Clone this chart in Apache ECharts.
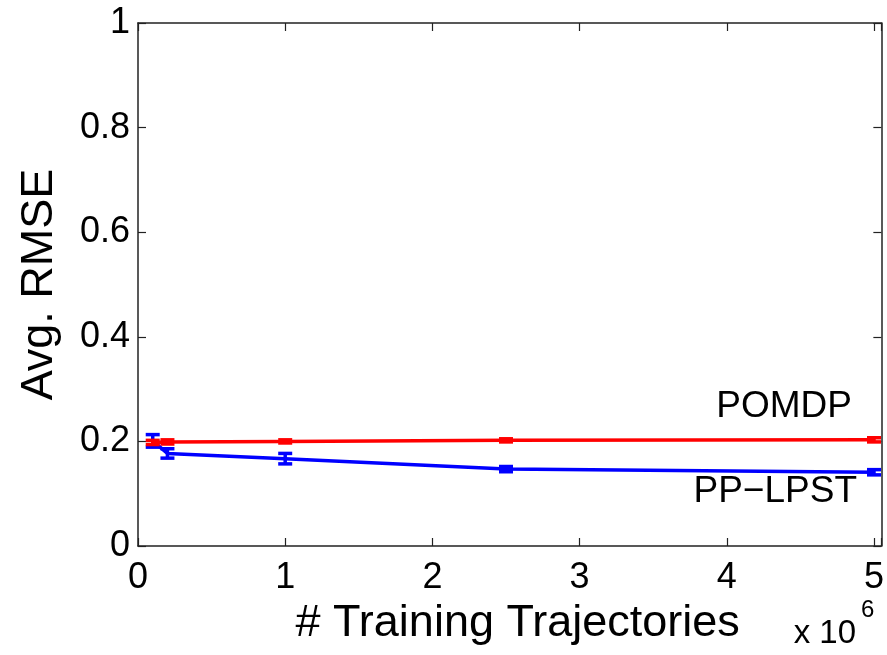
<html>
<head>
<meta charset="utf-8">
<title>Avg. RMSE</title>
<script src="https://cdn.jsdelivr.net/npm/echarts@6/dist/echarts.min.js"></script>
<style>
body { margin: 0; background: #fff; }
#chart { width: 887px; height: 655px; }
</style>
</head>
<body>
<div id="chart"></div>
<script>
// 训练轨迹数
var trajCounts = [100000, 200000, 1000000, 2500000, 5000000];
// POMDP
var pomdpMean = [0.198, 0.199, 0.200, 0.202, 0.203];
var pomdpErr = [0.004, 0.004, 0.003, 0.003, 0.004];
// PP-LPST
var lpstMean = [0.201, 0.177, 0.167, 0.147, 0.141];
var lpstErr = [0.012, 0.009, 0.010, 0.005, 0.005];

var yTicks = [0, 0.2, 0.4, 0.6, 0.8, 1];

var FONT = 'Liberation Sans, Arial, Helvetica, sans-serif';

function pairs(xs, ys) {
	var out = [];
	for (var i = 0; i < xs.length; i++) out.push([xs[i], ys[i]]);
	return out;
}

function errRows(xs, ys, es) {
	var out = [];
	for (var i = 0; i < xs.length; i++) out.push([xs[i], ys[i] - es[i], ys[i] + es[i]]);
	return out;
}

// 误差棒
function errorBar(color) {
	return function (params, api) {
		var lo = api.coord([api.value(0), api.value(1)]);
		var hi = api.coord([api.value(0), api.value(2)]);
		var w = 7;
		var st = { stroke: color, lineWidth: 3.5 };
		return {
			type: 'group',
			children: [
				{ type: 'line', shape: { x1: lo[0], y1: lo[1], x2: hi[0], y2: hi[1] }, style: st },
				{ type: 'line', shape: { x1: lo[0] - w, y1: lo[1], x2: lo[0] + w, y2: lo[1] }, style: st },
				{ type: 'line', shape: { x1: hi[0] - w, y1: hi[1], x2: hi[0] + w, y2: hi[1] }, style: st }
			]
		};
	};
}

var axisLine = { show: true, onZero: false, lineStyle: { color: '#222', width: 1.5 } };
var tick = { show: true, inside: true, length: 8, lineStyle: { color: '#222', width: 1.2 } };

var xFmt = function (v) {
	return (v % 1000000 === 0) ? String(v / 1000000) : '';
};

var option = {
	animation: false,
	backgroundColor: '#fff',
	grid: { left: 138, right: 5, top: 23, bottom: 109, containLabel: false },
	xAxis: [
		{
			type: 'value', min: 0, max: 5050000, interval: 1000000,
			name: '# Training Trajectories', nameLocation: 'middle', nameGap: 48,
			nameTextStyle: { fontFamily: FONT, fontSize: 45, color: '#000', padding: [0, 0, 0, 16] },
			axisLine: axisLine, axisTick: tick, splitLine: { show: false },
			axisLabel: { formatter: xFmt, fontFamily: FONT, fontSize: 36, color: '#000', margin: 14 }
		},
		{
			type: 'value', position: 'top', min: 0, max: 5050000, interval: 1000000,
			axisLine: axisLine, axisTick: tick, splitLine: { show: false },
			axisLabel: { show: false }
		}
	],
	yAxis: [
		{
			type: 'value', min: yTicks[0], max: yTicks[yTicks.length - 1], interval: 0.2,
			name: 'Avg. RMSE', nameLocation: 'middle', nameGap: 76,
			nameTextStyle: { fontFamily: FONT, fontSize: 45, color: '#000' },
			axisLine: axisLine, axisTick: tick, splitLine: { show: false },
			axisLabel: { fontFamily: FONT, fontSize: 36, color: '#000', margin: 8 }
		},
		{
			type: 'value', position: 'right', min: 0, max: 1, interval: 0.2,
			axisLine: axisLine, axisTick: tick, splitLine: { show: false },
			axisLabel: { show: false }
		}
	],
	series: [
		{
			name: 'POMDP', type: 'line', data: pairs(trajCounts, pomdpMean),
			showSymbol: false, symbol: 'none', lineStyle: { color: '#ff0000', width: 3.5 }, z: 3
		},
		{
			name: 'PP-LPST', type: 'line', data: pairs(trajCounts, lpstMean),
			showSymbol: false, symbol: 'none', lineStyle: { color: '#0000ff', width: 3.5 }, z: 2
		},
		{
			type: 'custom', renderItem: errorBar('#0000ff'), clip: true, z: 2,
			encode: { x: 0, y: [1, 2] }, data: errRows(trajCounts, lpstMean, lpstErr)
		},
		{
			type: 'custom', renderItem: errorBar('#ff0000'), clip: true, z: 3,
			encode: { x: 0, y: [1, 2] }, data: errRows(trajCounts, pomdpMean, pomdpErr)
		}
	],
	graphic: [
		{ type: 'text', x: 852, y: 407, style: { text: 'POMDP', font: '37px ' + FONT, fill: '#000', textAlign: 'right', textVerticalAlign: 'middle' } },
		{ type: 'text', x: 857, y: 492, style: { text: 'PP\u2212LPST', font: '37px ' + FONT, fill: '#000', textAlign: 'right', textVerticalAlign: 'middle' } },
		{ type: 'text', x: 856, y: 634, style: { text: 'x 10', font: '33px ' + FONT, fill: '#000', textAlign: 'right', textVerticalAlign: 'middle' } },
		{ type: 'text', x: 861, y: 610, style: { text: '6', font: '24px ' + FONT, fill: '#000', textAlign: 'left', textVerticalAlign: 'middle' } }
	]
};

var myChart = echarts.init(document.getElementById('chart'));
myChart.setOption(option);
</script>
</body>
</html>
